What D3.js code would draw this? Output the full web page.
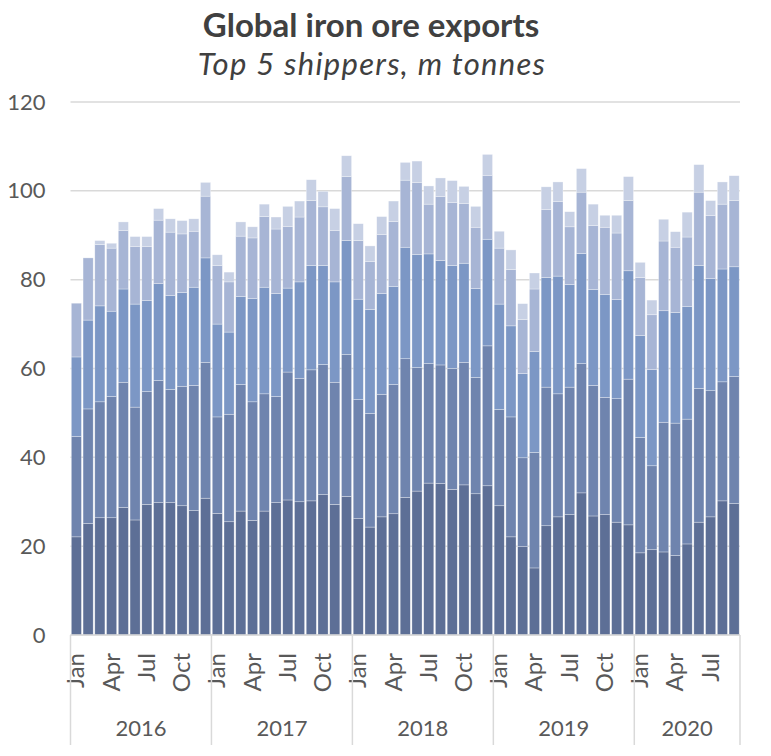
<!DOCTYPE html>
<html>
<head>
<meta charset="utf-8">
<script src="https://cdn.jsdelivr.net/npm/d3@7"></script>
<style>
  body { margin: 0; background: #fff; }
  text { font-family: Lato, "Open Sans", sans-serif; }
</style>
</head>
<body>
<div id="chart"></div>
<script>
// categories
var years = ["2016", "2017", "2018", "2019", "2020"];
var monthNames = ["Jan","Feb","Mar","Apr","May","Jun","Jul","Aug","Sep","Oct","Nov","Dec"];
var monthsPerYear = [12, 12, 12, 12, 9];
var yTicks = [0, 20, 40, 60, 80, 100, 120];

// five shippers, bottom to top of the stack (m tonnes)
var shipper1 = [22.1,25.1,26.4,26.4,28.7,25.9,29.4,29.8,29.8,29.1,28.0,30.8,
  27.4,25.5,27.9,25.8,27.9,29.8,30.4,30.0,30.2,31.6,29.4,31.2,
  26.2,24.3,26.6,27.3,31.0,32.4,34.2,34.1,32.8,33.8,31.8,33.6,
  29.1,22.1,19.9,15.1,24.6,26.6,27.1,32.0,26.8,27.1,25.4,24.8,
  18.5,19.2,18.7,17.9,20.5,25.4,26.6,30.2,29.6];
var shipper2 = [22.6,25.8,26.1,27.3,28.2,25.4,25.4,27.5,25.5,26.9,28.2,30.6,
  21.7,24.2,28.5,26.7,26.4,23.9,28.8,27.8,29.5,29.3,27.5,32.0,
  26.8,25.6,27.6,29.1,31.2,27.8,26.9,26.7,27.2,27.6,26.2,31.5,
  21.7,27.0,20.0,26.0,31.2,27.7,28.7,29.1,29.4,26.4,27.8,32.8,
  26.0,18.9,29.2,29.8,28.1,30.1,28.4,26.8,28.6];
var shipper3 = [17.9,20.0,21.6,19.2,21.0,23.2,20.5,21.8,21.1,21.1,22.1,23.5,
  20.9,18.5,19.8,23.3,24.0,23.2,18.9,21.7,23.5,22.3,22.6,25.6,
  22.6,23.4,22.7,22.1,25.1,25.5,24.7,23.5,23.2,22.3,20.0,24.0,
  23.7,20.5,19.0,22.7,24.7,26.5,23.1,24.8,21.6,23.2,22.3,24.4,
  22.9,21.7,25.1,24.9,25.4,27.7,25.3,25.4,24.7];
var shipper4 = [12.1,14.0,13.8,14.2,13.2,13.0,12.2,14.3,14.3,13.2,12.6,13.9,
  13.2,11.3,13.6,13.6,15.9,14.5,13.9,14.6,14.6,13.2,11.6,14.4,
  13.2,10.8,13.3,14.6,15.1,16.2,11.2,14.4,14.2,13.4,13.8,14.4,
  12.6,12.7,12.1,14.1,15.3,16.8,13.0,13.8,14.4,15.1,15.0,15.8,
  13.1,12.3,15.7,14.7,15.6,16.5,14.1,14.6,14.9];
var shipper5 = [0.0,0.0,0.9,1.1,1.9,2.2,2.2,2.6,3.0,3.0,2.8,3.1,
  2.4,2.2,3.2,2.5,2.8,2.7,4.5,3.6,4.7,3.5,4.9,4.7,
  3.8,3.5,4.0,4.6,4.0,4.8,4.1,4.2,4.9,3.9,4.7,4.7,
  3.8,4.4,3.6,3.6,5.1,4.4,3.4,5.3,4.8,2.7,4.0,5.4,
  3.4,3.3,4.9,3.5,5.6,6.2,3.4,5.0,5.6];

var keys = ["s1", "s2", "s3", "s4", "s5"];
var colors = ["#5d6f96", "#6f84ae", "#7c97c5", "#a7b5d5", "#c7d0e4"];

// build table rows from the arrays
var rows = [];
years.forEach(function(yr, yi) {
  for (var m = 0; m < monthsPerYear[yi]; m++) {
    var i = rows.length;
    rows.push({ idx: i, year: yr, month: monthNames[m],
      s1: shipper1[i], s2: shipper2[i], s3: shipper3[i], s4: shipper4[i], s5: shipper5[i] });
  }
});

var W = 771, H = 756;
var margin = { top: 102, right: 31, bottom: 121, left: 70.5 };
var width = W - margin.left - margin.right;
var height = H - margin.top - margin.bottom;

var svg = d3.select("#chart").append("svg")
  .attr("width", W)
  .attr("height", H);

var x = d3.scaleBand()
  .domain(rows.map(function(d) { return d.idx; }))
  .range([margin.left, margin.left + width])
  .paddingInner(0.14)
  .paddingOuter(0.07);

var y = d3.scaleLinear()
  .domain([0, 120])
  .range([margin.top + height, margin.top]);

// title
svg.append("text")
  .attr("x", 371).attr("y", 37)
  .attr("text-anchor", "middle")
  .style("font-weight", "bold")
  .style("font-size", "33px")
  .style("fill", "#404040")
  .text("Global iron ore exports");

svg.append("text")
  .attr("x", 372).attr("y", 75)
  .attr("text-anchor", "middle")
  .style("font-style", "italic")
  .style("font-size", "31px")
  .style("letter-spacing", "1.3px")
  .style("fill", "#404040")
  .text("Top 5 shippers, m tonnes");

// gridlines
svg.append("g").selectAll("line")
  .data(yTicks)
  .enter().append("line")
  .attr("x1", margin.left).attr("x2", margin.left + width)
  .attr("y1", function(d) { return y(d); })
  .attr("y2", function(d) { return y(d); })
  .attr("stroke", "#d9d9d9")
  .attr("stroke-width", 1.5);

// y axis labels
var yAxis = d3.axisLeft(y).tickValues(yTicks).tickSize(0).tickPadding(25);
var gy = svg.append("g")
  .attr("transform", "translate(" + margin.left + ",0)")
  .call(yAxis);
gy.select(".domain").remove();
gy.selectAll("text")
  .style("font-size", "22px")
  .style("fill", "#595959")
  .style("font-family", "Lato, 'Open Sans', sans-serif");

// stacked bars
var stack = d3.stack().keys(keys);
var layers = stack(rows);

svg.append("g").selectAll("g")
  .data(layers)
  .enter().append("g")
  .attr("fill", function(d, i) { return colors[i]; })
  .selectAll("rect")
  .data(function(d) { return d; })
  .enter().append("rect")
  .attr("x", function(d) { return x(d.data.idx); })
  .attr("width", x.bandwidth())
  .attr("y", function(d) { return y(d[1]); })
  .attr("height", function(d) { return y(d[0]) - y(d[1]); })
  .attr("stroke", "#ffffff")
  .attr("stroke-opacity", 0.5)
  .attr("stroke-width", 0.6);

// x axis: month labels, year separators, year labels
var base = y(0);
var half = x.step() * x.paddingInner() / 2;

svg.append("line")
  .attr("x1", margin.left).attr("x2", margin.left + width)
  .attr("y1", base).attr("y2", base)
  .attr("stroke", "#d9d9d9").attr("stroke-width", 1.5);

svg.append("g").selectAll("text")
  .data(rows.filter(function(d, i) { return ["Jan","Apr","Jul","Oct"].indexOf(d.month) >= 0; }))
  .enter().append("text")
  .attr("transform", function(d) {
    return "translate(" + (x(d.idx) + x.bandwidth() / 2 + 8) + "," + (base + 18) + ") rotate(-90)";
  })
  .attr("text-anchor", "end")
  .style("font-size", "24px")
  .style("fill", "#595959")
  .text(function(d) { return d.month; });

var yearSpans = [];
var start = 0;
years.forEach(function(yr, yi) {
  yearSpans.push({ year: yr, first: start, last: start + monthsPerYear[yi] - 1 });
  start += monthsPerYear[yi];
});

var sepX = yearSpans.map(function(s) { return x(s.first) - half; });
sepX.push(x(rows.length - 1) + x.bandwidth() + half);

svg.append("g").selectAll("line")
  .data(sepX)
  .enter().append("line")
  .attr("x1", function(d) { return d; }).attr("x2", function(d) { return d; })
  .attr("y1", base).attr("y2", base + 110)
  .attr("stroke", "#d9d9d9").attr("stroke-width", 1.5);

svg.append("g").selectAll("text")
  .data(yearSpans)
  .enter().append("text")
  .attr("x", function(s) { return (x(s.first) + x(s.last) + x.bandwidth()) / 2; })
  .attr("y", base + 101)
  .attr("text-anchor", "middle")
  .style("font-size", "22px")
  .style("fill", "#595959")
  .text(function(s) { return s.year; });
</script>
</body>
</html>
